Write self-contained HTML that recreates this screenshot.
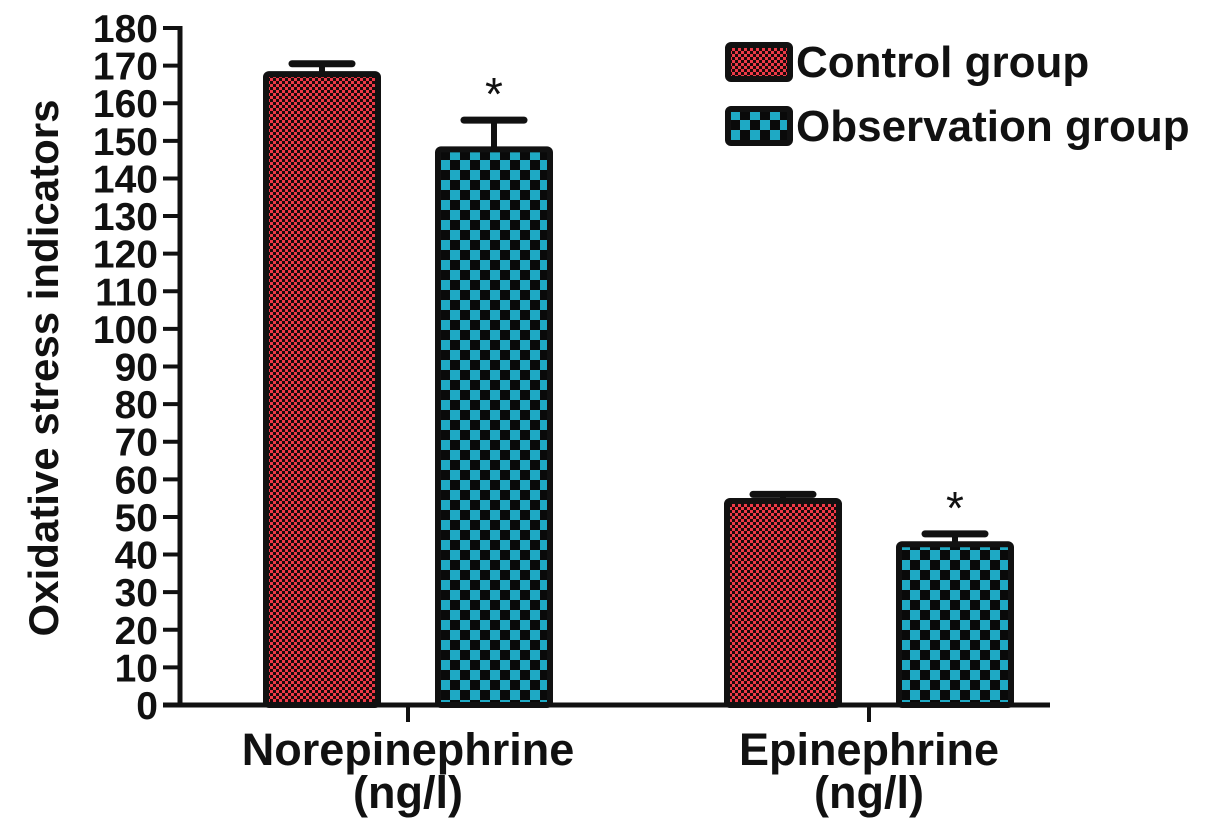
<!DOCTYPE html>
<html><head><meta charset="utf-8"><style>
body{margin:0;background:#fff;}
svg text{font-family:"Liberation Sans",Arial,sans-serif;fill:#111;}
</style></head><body>
<svg width="1205" height="827" viewBox="0 0 1205 827" xmlns="http://www.w3.org/2000/svg">
<defs>
<pattern id="redPat" width="6" height="6" patternUnits="userSpaceOnUse">
<rect width="6" height="6" fill="#1a0a0a"/><rect width="3" height="3" fill="#ee3a48"/><rect x="3" y="3" width="3" height="3" fill="#ee3a48"/>
</pattern>
<pattern id="bluePat" width="20" height="20" patternUnits="userSpaceOnUse">
<rect width="20" height="20" fill="#0a0a0a"/><rect width="10" height="10" fill="#1ea9c4"/><rect x="10" y="10" width="10" height="10" fill="#1ea9c4"/>
</pattern>
</defs>
<g id="plot"></g>
</svg>
<script>
const categories = ["Norepinephrine", "Epinephrine"];
const controlValues = [168, 54.5];
const controlErrors = [2.5, 1.5];
const observationValues = [148, 43];
const observationErrors = [7.5, 2.5];
const yTicks = [0,10,20,30,40,50,60,70,80,90,100,110,120,130,140,150,160,170,180];

const NS = "http://www.w3.org/2000/svg";
const g = document.getElementById('plot');
const y0 = 705, yTop = 28, yMax = 180;
const yScale = v => y0 - (v / yMax) * (y0 - yTop);
const groupCenters = [408, 869];
const barW = 118, gap = 54;

function mk(tag, attrs, parent) {
  const e = document.createElementNS(NS, tag);
  for (const k in attrs) e.setAttribute(k, attrs[k]);
  (parent || g).appendChild(e);
  return e;
}

let ax = mk('line', {x1:180, y1:yTop-2, x2:180, y2:y0, stroke:'#111', 'stroke-width':5});


let xa = mk('line', {x1:163, y1:y0, x2:1050, y2:y0, stroke:'#111', 'stroke-width':5});



yTicks.forEach(t => {
  const y = yScale(t);
  const tl = mk('line', {x1:163, y1:y, x2:180, y2:y, stroke:'#111', 'stroke-width':4});
  
  
  const tx = mk('text', {x:158, y:y+14, 'text-anchor':'end', 'font-size':39, 'font-weight':'bold'});
  tx.textContent = t;
  
  
});

const yt = mk('text', {x:0, y:0, 'text-anchor':'middle', 'font-size':42, 'font-weight':'bold', transform:'translate(58,368) rotate(-90)'});
yt.textContent = 'Oxidative stress indicators';



function drawBar(cx, val, err, fill, name, star) {
  const top = yScale(val);
  const x = cx - barW/2;
  const eTop = yScale(val + err);
  const el = mk('line', {x1:cx, y1:top, x2:cx, y2:eTop, stroke:'#111', 'stroke-width':6});
  
  
  const ec = mk('line', {x1:cx-30, y1:eTop, x2:cx+30, y2:eTop, stroke:'#111', 'stroke-width':7, 'stroke-linecap':'round'});
  
  
  const r = mk('rect', {x:x+3, y:top+1, width:barW-6, height:y0-top-1, fill:fill, stroke:'#111', 'stroke-width':6, rx:3});
  
  
  if (star) {
    const s = mk('text', {x:cx, y:eTop-10, 'text-anchor':'middle', 'font-size':46});
    s.textContent = '*';
    
    
  }
}

categories.forEach((c, i) => {
  const cx = groupCenters[i];
  drawBar(cx - gap/2 - barW/2, controlValues[i], controlErrors[i], 'url(#redPat)', 'bar-control-' + c.toLowerCase(), false);
  drawBar(cx + gap/2 + barW/2, observationValues[i], observationErrors[i], 'url(#bluePat)', 'bar-observation-' + c.toLowerCase(), true);
  const tk = mk('line', {x1:cx, y1:y0, x2:cx, y2:y0+17, stroke:'#111', 'stroke-width':4});
  
  
  const t1 = mk('text', {x:cx, y:765, 'text-anchor':'middle', 'font-size':45, 'font-weight':'bold'});
  t1.textContent = c;
  
  
  const t2 = mk('text', {x:cx, y:808, 'text-anchor':'middle', 'font-size':45, 'font-weight':'bold'});
  t2.textContent = '(ng/l)';
  
  
});

const legend = [['Control group','url(#redPat)',42],['Observation group','url(#bluePat)',106]];
legend.forEach(l => {
  const b = mk('rect', {x:728, y:l[2]+3, width:62, height:34, fill:l[1], stroke:'#111', 'stroke-width':6, rx:3});
  
  
  const t = mk('text', {x:796, y:l[2]+35, 'font-size':44, 'font-weight':'bold'});
  t.textContent = l[0];
  
  
});
</script>
</body></html>
